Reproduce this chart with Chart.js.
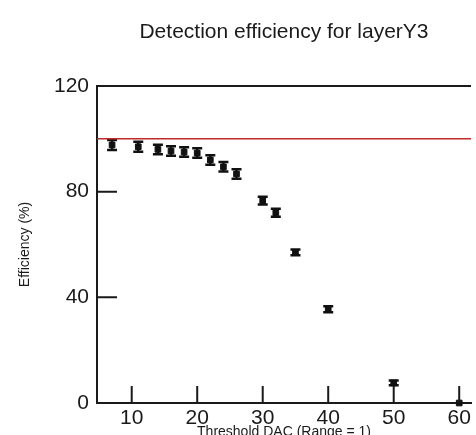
<!DOCTYPE html>
<html>
<head>
<meta charset="utf-8">
<script src="https://cdn.jsdelivr.net/npm/chart.js@4.4.0/dist/chart.umd.min.js"></script>
<style>
  html, body { margin: 0; padding: 0; background: #fff; }
</style>
</head>
<body>
<canvas id="chart" width="476" height="435"></canvas>
<script>
// threshold DAC values and measured efficiency (%)
const thresholds = [7, 11, 14, 16, 18, 20, 22, 24, 26, 30, 32, 35, 40, 50, 60];
const efficiency = [97.7, 97.0, 96.0, 95.4, 95.0, 94.6, 92.0, 89.4, 86.7, 76.6, 72.0, 57.0, 35.5, 7.6, 0];
const errLow  = [1.9, 1.9, 1.8, 1.8, 1.8, 1.8, 1.8, 1.8, 1.8, 1.5, 1.5, 1.1, 1.1, 0.9, 0];
const errHigh = [1.9, 1.9, 1.8, 1.8, 1.8, 1.8, 1.8, 1.8, 1.8, 1.5, 1.5, 1.1, 1.1, 0.9, 0];
const xTicks = [10, 20, 30, 40, 50, 60];
const yTicks = [0, 40, 80, 120];
const refLevel = 100;
const xRange = [4.7, 61.8];

Chart.defaults.font.family = "'Liberation Sans', Arial, sans-serif";
Chart.defaults.color = '#1a1a1a';

// error bars, inward tick marks and the top frame line
const decorations = {
    id: 'decorations',
    beforeDatasetsDraw(chart) {
        const {ctx, scales: {x, y}} = chart;
        ctx.save();
        ctx.strokeStyle = '#111';
        ctx.lineWidth = 2.5;
        thresholds.forEach((t, i) => {
            const px = x.getPixelForValue(t);
            const lo = y.getPixelForValue(efficiency[i] - errLow[i]);
            const hi = y.getPixelForValue(efficiency[i] + errHigh[i]);
            if (lo - hi < 1) return;
            ctx.beginPath();
            ctx.moveTo(px, lo); ctx.lineTo(px, hi);
            ctx.moveTo(px - 5, lo); ctx.lineTo(px + 5, lo);
            ctx.moveTo(px - 5, hi); ctx.lineTo(px + 5, hi);
            ctx.stroke();
        });
        ctx.restore();
    },
    afterDatasetsDraw(chart) {
        const {ctx, chartArea, scales: {x, y}} = chart;
        ctx.save();
        ctx.strokeStyle = '#1a1a1a';
        ctx.lineWidth = 2;
        ctx.beginPath();
        //top frame
        ctx.moveTo(chartArea.left, chartArea.top);
        ctx.lineTo(chartArea.right, chartArea.top);
        //x ticks point up into the plot
        xTicks.forEach(v => {
            const px = x.getPixelForValue(v);
            ctx.moveTo(px, chartArea.bottom);
            ctx.lineTo(px, chartArea.bottom - 17);
        });
        //y ticks point right into the plot
        yTicks.slice(1, -1).forEach(v => {
            const py = y.getPixelForValue(v);
            ctx.moveTo(chartArea.left, py);
            ctx.lineTo(chartArea.left + 20, py);
        });
        ctx.stroke();
        ctx.restore();
    }
};

new Chart(document.getElementById('chart').getContext('2d'), {
    type: 'scatter',
    data: {
        datasets: [
            {
                label: 'Efficiency',
                data: thresholds.map((t, i) => ({x: t, y: efficiency[i]})),
                pointStyle: 'rect',
                pointRadius: 4,
                backgroundColor: '#111',
                borderColor: '#111',
                borderWidth: 1,
                clip: false,
            },
            {
                label: 'Reference',
                data: xRange.map(v => ({x: v, y: refLevel})),
                showLine: true,
                pointRadius: 0,
                borderColor: '#c02a2a',
                borderWidth: 1.5,
            },
        ],
    },
    options: {
        responsive: false,
        animation: false,
        events: [],
        layout: {
            padding: {left: 0, right: 0, top: 0, bottom: -6},
        },
        plugins: {
            legend: {display: false},
            tooltip: {enabled: false},
            title: {
                display: true,
                text: 'Detection efficiency for layerY3',
                fullSize: false,
                font: {size: 21, weight: 'normal'},
                padding: {top: 19.4, bottom: 41.4},
            },
        },
        scales: {
            x: {
                type: 'linear',
                min: xRange[0],
                max: xRange[1],
                afterBuildTicks: scale => { scale.ticks = xTicks.map(v => ({value: v})); },
                afterFit: scale => { scale.height = 38; },
                grid: {display: false, drawTicks: false},
                border: {display: true, color: '#1a1a1a', width: 2},
                ticks: {font: {size: 21}, padding: 3, maxRotation: 0},
                title: {
                    display: true,
                    text: 'Threshold DAC (Range = 1)',
                    font: {size: 14},
                    padding: {top: 0, bottom: 0},
                },
            },
            y: {
                min: 0,
                max: 120,
                afterBuildTicks: scale => { scale.ticks = yTicks.map(v => ({value: v})); },
                afterFit: scale => { scale.width = 97; },
                grid: {display: false, drawTicks: false},
                border: {display: true, color: '#1a1a1a', width: 2},
                ticks: {font: {size: 21}, padding: 8},
                title: {
                    display: true,
                    text: 'Efficiency (%)',
                    font: {size: 14},
                    padding: {top: 16.6, bottom: 0},
                },
            },
        },
    },
    plugins: [decorations],
});
</script>
</body>
</html>
